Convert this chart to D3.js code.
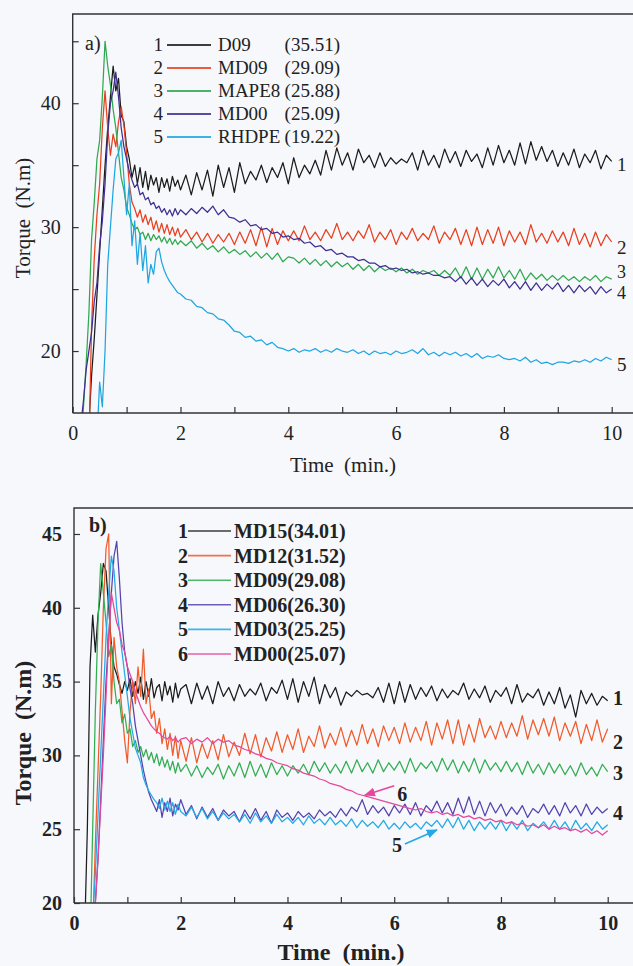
<!DOCTYPE html>
<html><head><meta charset="utf-8">
<script src="https://cdn.jsdelivr.net/npm/d3@7"></script>
<style>
html,body{margin:0;padding:0;background:#f6f8fb;}
svg{display:block;}
text{font-family:"Liberation Serif","Times New Roman",serif;fill:#222;}
</style></head>
<body>
<svg id="chart" width="633" height="966"></svg>
<script>
// ---------- DATA ----------
const timeGrid = [
0.1,0.15,0.2,0.25,0.3,0.35,0.4,0.45,0.5,0.55,
0.6,0.65,0.7,0.75,0.8,0.85,0.9,0.95,1.0,1.05,
1.1,1.15,1.2,1.25,1.3,1.35,1.4,1.45,1.5,1.55,
1.6,1.65,1.7,1.75,1.8,1.85,1.9,1.95,2.0,
2.1,2.2,2.3,2.4,2.5,2.6,2.7,2.8,2.9,3.0,
3.1,3.2,3.3,3.4,3.5,3.6,3.7,3.8,3.9,4.0,
4.1,4.2,4.3,4.4,4.5,4.6,4.7,4.8,4.9,5.0,
5.1,5.2,5.3,5.4,5.5,5.6,5.7,5.8,5.9,6.0,
6.1,6.2,6.3,6.4,6.5,6.6,6.7,6.8,6.9,7.0,
7.1,7.2,7.3,7.4,7.5,7.6,7.7,7.8,7.9,8.0,
8.1,8.2,8.3,8.4,8.5,8.6,8.7,8.8,8.9,9.0,
9.1,9.2,9.3,9.4,9.5,9.6,9.7,9.8,9.9,10.0];

// Panel a)
const namesA = ["D09","MD09","MAPE8","MD00","RHDPE"];
const finalA = ["(35.51)","(29.09)","(25.88)","(25.09)","(19.22)"];
const a_D09 = [
10,10,10,11,14,18,21,24.5,28,31.5,
35,38,40.5,43,41,42,39,38.5,36.5,35.5,
34,35,33.5,34.8,33.2,34.5,33,34.2,33.4,34,
32.8,34,33.2,33.9,32.9,34.1,33.3,33.8,33,
34.2,32.6,34.4,33,34.6,32.5,35,33.2,34.8,32.8,
35.2,33.5,34.5,33.8,35,33.6,34.8,34,35.2,33.5,
35.6,34,35,34.3,35.4,34.2,36.2,34.6,36.4,35,
36,34.6,36.3,35.2,35.8,34.8,36,34.9,35.6,35.1,
35.5,35.2,36,34.6,36.2,35,35.8,34.8,36.3,35.2,
36.1,34.9,36.2,35.3,35.9,34.8,36.4,35,36.6,35.2,
36.2,35,36.8,35.1,36.9,35.4,36.5,35.3,36.2,34.9,
36,35,36.3,34.8,35.9,35.2,36.2,34.7,35.8,35.3];
const a_MD09 = [
10,10,10,10,12,22,27.5,31,33.5,38,
41,38,35.8,37.5,36.5,38.5,39.7,38.2,36,33.5,
32,31.5,30.8,31.4,30.4,31,30.2,30.8,29.8,30.5,
29.6,30.3,29.5,30.2,29.4,30,29.3,29.9,29.2,
29.8,29,29.6,28.8,29.5,28.7,29.4,28.8,29.5,28.6,
29.6,28.7,29.8,28.5,30,28.4,29.9,28.6,29.7,28.9,
29.7,28.9,30.1,29,29.6,28.9,29.8,29.1,30.3,29,
29.6,28.9,29.7,29.1,30.2,28.8,29.6,29,29.8,28.6,
29.6,29,29.9,28.9,29.5,29,30.1,28.7,29.6,29,
29.9,28.6,29.8,28.5,30,28.6,29.8,28.7,30,28.5,
29.7,28.8,29.6,28.6,30.2,28.8,29.5,28.7,29.7,28.8,
29.6,28.5,29.9,28.6,29.5,28.4,29.6,28.5,29.4,28.8];
const a_MAPE8 = [
10,12,15.5,19,23,29,32,35.5,37,40.5,
45,43,41.5,39.5,38,36,34,33,31.6,31,
30.3,29.8,30,29.4,29.6,29,29.5,28.9,29.4,29,
29.3,28.8,29.2,28.7,29.1,28.6,29,28.6,28.9,
28.5,28.9,28.3,28.7,28.2,28.5,28,28.4,27.9,28.2,
27.8,28.1,27.6,28,27.5,27.9,27.4,27.9,27.2,27.6,
27.5,27.1,27.5,27,27.4,26.9,27.3,26.8,27.2,26.8,
27.1,26.6,27,26.5,26.9,26.4,26.8,26.5,26.7,26.4,
26.7,26.3,26.6,26.2,26.5,26.3,26.5,26.1,26.5,26.1,
26.7,25.9,26.8,25.8,26.7,25.8,26.6,25.9,26.8,25.9,
26.5,25.8,26.6,25.7,26.3,25.8,26.2,25.7,26.1,25.7,
26.1,25.7,26,25.6,26,25.7,26.1,25.6,26,25.8];
const a_MD00 = [
10,14,16,18.5,20,21.5,24,25.5,28.5,30.5,
33.5,37.5,40,41,42.5,40.5,38,36.5,35.5,34.5,
33.8,33.2,33.5,32.6,32.8,32.2,32.4,31.8,32,31.5,
31.7,31.2,31.5,31,31.4,30.9,31.5,31,31.4,
31,31.5,31.1,31.6,31.2,31.7,31,31.4,30.8,30.7,
30.4,30.6,30.1,30.2,29.8,29.9,29.5,29.6,29.2,29.3,
29,29.1,28.7,28.8,28.4,28.5,28.1,28.2,27.8,27.9,
27.6,27.6,27.3,27.4,27.1,27.1,26.8,26.9,26.6,26.7,
26.5,26.6,26.3,26.4,26.2,26.3,26.1,26.1,25.9,26,
25.6,26,25.4,25.9,25.3,25.8,25.2,25.7,25.3,25.8,
25.1,25.6,25,25.6,24.9,25.5,24.9,25.4,25,25.5,
24.8,25.3,24.7,25.3,24.8,25.2,24.6,25.2,24.7,25];
const a_RHDPE = [
10,10,10,10,10,10,10,13,17.5,15.5,
20,27,30,33,35.5,36,37,34,31,33.5,
28.5,30.5,27,29.5,26.5,28.5,25.5,27,26.2,28,
28.3,27.2,26.5,26,25.6,25.3,25,24.7,24.6,
24.2,24.1,23.6,23.5,23.1,23,22.6,22.5,22.1,21.6,
21.5,21.1,21.2,20.8,20.9,20.5,20.7,20.3,20.2,20,
20.2,19.9,20.1,20,20.2,19.9,20.1,19.9,20.2,20,
19.9,20.1,19.8,20,19.7,20,19.8,19.9,19.7,20,
19.8,19.9,20.1,19.8,20.2,19.7,19.9,19.6,19.9,19.7,
19.9,19.6,19.8,19.5,19.8,19.4,19.6,19.5,19.7,19.4,
19.3,19.4,19.2,19.5,19.1,19.3,19.0,19.1,18.9,19.1,
19.1,19.0,19.2,19.1,19.3,19.1,19.4,19.2,19.5,19.3];

// Panel b)
const namesB = ["MD15(34.01)","MD12(31.52)","MD09(29.08)","MD06(26.30)","MD03(25.25)","MD00(25.07)"];
const b_MD15 = [
15,15,18,25,36,39.5,37,39.5,41,43,
42.5,40,37.5,36,35.5,34.8,34.2,35,34.4,35.2,
34,35,34.2,35.3,33.8,35,34,35.2,33.9,34.6,
34.8,33.7,35,34.1,34.7,33.6,34.9,33.9,34.5,
34.8,33.5,34.9,33.8,34.7,33.5,35,34,34.6,33.7,
34.8,34,34.5,34.1,34.9,33.7,34.6,34.2,35.1,33.8,
35.2,33.6,35,34,35.3,33.5,34.8,33.9,34.6,33.4,
34.3,34,34.4,34.1,34.2,33.9,34.6,33.6,34.9,33.5,
35,33.6,34.8,33.8,34.6,34,34.7,33.7,34.5,33.9,
34.4,34.1,34.9,33.8,34.5,33.9,34.7,33.6,34.4,34,
34.6,33.5,34.8,33.6,34.2,33.9,34.5,33.4,34.3,33.5,
34.6,33.2,34.1,32.6,34.4,33.5,34.2,33.4,34,33.7];
const b_MD12 = [
15,15,15,15,15,18,24,29,34,40,
44,45,33.5,38,36,35,33,31,29.5,33,
35,33.5,36,34,37.2,33.5,34.5,32.5,33,31.5,
32.5,30.8,31.8,30.4,31.5,30,31.3,29.8,31,
29.6,31.2,29.5,30.8,29.8,31,29.7,31.4,29.9,30.9,
30,31.5,30.1,31.4,29.9,31.2,30.3,31.6,30.2,31.4,
30.4,31.8,30.2,31.3,30.6,32,30.5,31.5,30.7,31.9,
30.6,31.7,30.7,32.1,30.8,31.8,30.6,32,31,31.9,
30.8,32.2,30.9,31.9,31,32.3,30.7,32.2,31.1,32.4,
30.8,32.4,30.7,32.1,30.9,32.5,31.2,32,31.1,32.3,
31.2,32.2,31.3,32.7,31.1,32.4,31.4,32.5,31.3,32.6,
31,32.2,31.3,32.3,30.8,32.1,31,32.4,30.9,31.8];
const b_MD09 = [
15,15,15,15,17,25,33,39,43,41,
39,36.7,37.5,35,33.5,33.8,32.2,32.8,31.5,31.8,
30.6,31,30.2,30.6,29.9,30.4,29.7,30.2,29.5,30.1,
29.3,29.9,29.2,29.7,29,29.6,28.8,29.5,28.9,
29.4,28.6,29.3,28.5,29.2,28.7,29.4,28.4,29.3,28.6,
29.5,28.5,29.6,28.6,29.4,28.5,29.5,28.7,29.3,28.6,
29.3,28.8,29.4,28.7,29.6,28.9,29.5,28.8,29.4,28.8,
29.6,28.8,29.7,28.9,29.5,28.8,29.7,28.9,29.5,29,
29.6,28.8,29.8,28.9,29.5,29.1,29.6,28.9,29.8,29,
29.7,28.8,29.6,28.9,29.8,28.8,29.7,29,29.5,28.9,
29.6,28.9,29.5,28.7,29.6,28.8,29.4,28.7,29.5,28.8,
29.4,28.7,29.3,28.6,29.5,28.7,29.2,28.6,29.4,28.9];
const b_MD06 = [
15,15,15,15,15,18,20,23,27,31,
35,38,41,43.5,44.5,42,39,37,36,34.5,
33.5,32,31,30,29,28.2,27.5,27,26.6,26.2,
27,25.8,26.8,26.2,27.1,25.9,26.7,26.3,27,
26,26.6,25.7,26.5,25.8,26.4,25.6,26.3,25.9,26.2,
25.5,26.3,25.7,26.4,25.6,26.2,25.4,26.3,25.8,26.1,
25.6,26.2,25.8,26.1,25.7,26.3,25.9,26.2,25.8,26.4,
25.9,26.5,26.2,27,26,26.6,26.1,26.5,25.9,26.6,
26.1,26.7,26,26.8,25.9,26.6,26.2,26.9,26.1,26.8,
26,27.1,26.1,27.2,26,26.9,25.9,26.8,26.1,26.7,
25.9,26.5,26,26.6,25.8,26.4,26.1,26.7,26,26.6,
25.9,26.8,26.1,26.6,25.9,26.7,26,26.5,26.1,26.4];
const b_MD03 = [
15,15,15,15,15,19,22,26,30,34,
38,41,43.5,42.5,40,38.5,37,35.5,34,32.5,
31.5,30.5,30,29.5,28.5,28,27.6,27.3,27,26.8,
26.4,27.1,26.3,26.9,26.2,26.8,26,26.7,26.2,
25.9,26.5,25.8,26.4,25.7,26.2,25.6,26.1,25.7,26,
25.5,26,25.4,26.1,25.5,25.9,25.4,26,25.5,25.8,
25.4,25.8,25.3,25.9,25.4,25.7,25.3,25.8,25.3,25.6,
25.2,25.7,25.1,25.6,25.2,25.5,25.1,25.6,25,25.4,
25,25.5,25.1,25.4,25,25.5,25.2,25.6,25.1,25.7,
25.1,25.8,25,25.6,24.9,25.5,25,25.5,25,25.6,
24.9,25.5,25,25.6,24.9,25.4,25.1,25.5,25,25.6,
25,25.5,24.9,25.6,25,25.4,24.9,25.5,25,25.3];
const b_MD00 = [
15,15,15,15,15,17,20,23,26.5,30,
34,38,41,40,39,38.5,37.5,37,36,35.5,
35,34.3,33.8,33.3,32.9,32.6,32.3,32,31.8,31.6,
31.5,31.3,31.2,31.1,31.3,31,31.2,30.9,31.1,
31.2,30.8,31.1,30.9,31.2,30.8,31.1,30.9,31,30.7,
30.6,30.4,30.3,30.1,30,29.8,29.7,29.5,29.4,29.3,
29.1,29,28.8,28.7,28.6,28.4,28.3,28.1,28.0,27.9,
27.7,27.6,27.4,27.3,27.2,27.1,27,26.9,26.8,26.7,
26.6,26.5,26.4,26.3,26.4,26.2,26.1,26.2,26,26.1,
25.9,26,25.8,25.9,25.7,25.8,25.6,25.7,25.5,25.6,
25.4,25.5,25.3,25.4,25.2,25.3,25.1,25.3,25,25.2,
25,25.1,24.9,25,24.8,25,24.7,24.9,24.6,24.9];

const xTicks = [0,2,4,6,8,10];
const yTicksA = [20,30,40];
const yTicksB = [20,25,30,35,40,45];

// ---------- DRAWING ----------
const svg = d3.select("#chart");
const serif = '"Liberation Serif","Times New Roman",serif';
const colA = ["#1c1c1c","#e8401f","#2fa84f","#3f2f92","#1fa6e2"];
const colB = ["#1c1c1c","#f15a2b","#33ad52","#5842b0","#22a9e6","#e6479b"];

function panel(cfg){
  const g = svg.append("g");
  const x = d3.scaleLinear().domain([0,10]).range(cfg.xr);
  const y = d3.scaleLinear().domain(cfg.yd).range(cfg.yr);
  const clipId = "clip"+cfg.id;
  svg.append("clipPath").attr("id",clipId).append("rect")
    .attr("x",cfg.xr[0]).attr("y",cfg.yr[1]).attr("width",640-cfg.xr[0]).attr("height",cfg.yr[0]-cfg.yr[1]);
  const line = d3.line().x((d,i)=>x(timeGrid[i])).y(d=>y(d));
  const lg = g.append("g").attr("clip-path",`url(#${clipId})`);
  cfg.series.forEach((s,k)=>{
    lg.append("path").attr("d",line(s)).attr("fill","none")
      .attr("stroke",cfg.colors[k]).attr("stroke-width",1.25).attr("stroke-linejoin","round");
  });
  g.append("path").attr("d",`M${cfg.xr[0]},${cfg.yr[0]}V${cfg.yr[1]}H640`)
    .attr("fill","none").attr("stroke","#333").attr("stroke-width",1.4);
  const xa = d3.axisBottom(x).tickValues(d3.range(0,11,1)).tickSize(-6)
     .tickFormat(d=> xTicks.includes(d)? d3.format("d")(d):"").tickPadding(13);
  const xg = g.append("g").attr("transform",`translate(0,${cfg.yr[0]})`).call(xa);
  xg.select(".domain").attr("d",`M${cfg.xr[0]},0H640`).attr("stroke","#333").attr("stroke-width",1.4);
  xg.selectAll(".tick line").attr("stroke","#333").attr("stroke-width",1.2);
  xg.selectAll(".tick text").attr("font-family",serif).attr("font-size",cfg.fs)
    .attr("font-weight",cfg.fw).attr("fill","#222");
  const ya = d3.axisLeft(y).tickValues(cfg.yMinor).tickSize(-6)
     .tickFormat(d=> cfg.yLab.includes(d)? d3.format("d")(d):"").tickPadding(cfg.ypad);
  const yg = g.append("g").attr("transform",`translate(${cfg.xr[0]},0)`).call(ya);
  yg.select(".domain").remove();
  yg.selectAll(".tick line").attr("stroke","#333").attr("stroke-width",1.2);
  yg.selectAll(".tick text").attr("font-family",serif).attr("font-size",cfg.fs)
    .attr("font-weight",cfg.fw).attr("fill","#222");
  return {g,x,y};
}

const A = panel({id:"A", xr:[72.7,611.7], yd:[15,47.2], yr:[413,14],
  series:[a_D09,a_MD09,a_MAPE8,a_MD00,a_RHDPE], colors:colA,
  fs:20, fw:"normal", yMinor:[20,25,30,35,40,45], yLab:yTicksA, ypad:12});
const B = panel({id:"B", xr:[74,607.7], yd:[20,46.76], yr:[903,508],
  series:[b_MD15,b_MD12,b_MD09,b_MD06,b_MD03,b_MD00], colors:colB,
  fs:20, fw:"bold", yMinor:yTicksB, yLab:yTicksB, ypad:12});

svg.append("text").attr("x",85).attr("y",50).attr("font-size",20).text("a)");
svg.append("text").attr("x",89).attr("y",532).attr("font-size",20).attr("font-weight","bold").text("b)");

svg.append("text").attr("x",343).attr("y",472).attr("text-anchor","middle").attr("font-size",21)
  .style("white-space","pre").text("Time  (min.)");
svg.append("text").attr("transform","translate(30,218) rotate(-90)").attr("text-anchor","middle")
  .attr("font-size",21).style("white-space","pre").text("Torque  (N.m)");
svg.append("text").attr("x",341).attr("y",960).attr("text-anchor","middle").attr("font-size",24)
  .attr("font-weight","bold").style("white-space","pre").text("Time  (min.)");
svg.append("text").attr("transform","translate(31,733) rotate(-90)").attr("text-anchor","middle")
  .attr("font-size",24).attr("font-weight","bold").style("white-space","pre").text("Torque  (N.m)");

namesA.forEach((n,i)=>{
  const yy = 45 + i*23;
  svg.append("text").attr("x",163).attr("y",yy+6).attr("text-anchor","end").attr("font-size",19).text(i+1);
  svg.append("line").attr("x1",167).attr("x2",211).attr("y1",yy).attr("y2",yy)
    .attr("stroke",colA[i]).attr("stroke-width",2).attr("opacity",0.85);
  svg.append("text").attr("x",218).attr("y",yy+6).attr("font-size",19).text(n);
  svg.append("text").attr("x",340).attr("y",yy+6).attr("text-anchor","end").attr("font-size",19).text(finalA[i]);
});
namesB.forEach((n,i)=>{
  const yy = 531 + i*24.6;
  svg.append("text").attr("x",188).attr("y",yy+7).attr("text-anchor","end").attr("font-size",20)
    .attr("font-weight","bold").text(i+1);
  svg.append("line").attr("x1",188).attr("x2",231).attr("y1",yy).attr("y2",yy)
    .attr("stroke",colB[i]).attr("stroke-width",1.6).attr("opacity",0.85);
  svg.append("text").attr("x",234).attr("y",yy+7).attr("font-size",20).attr("font-weight","bold").text(n);
});

const endA = [[617,171,"1",19],[617,254,"2",19],[617,278,"3",18],[617,299,"4",18],[617,371,"5",19]];
endA.forEach(d=> svg.append("text").attr("x",d[0]).attr("y",d[1]).attr("font-size",d[3]).text(d[2]));
const endB = [[613,705,"1"],[613,749,"2"],[613,780,"3"],[613,820,"4"]];
endB.forEach(d=> svg.append("text").attr("x",d[0]).attr("y",d[1]).attr("font-size",20).attr("font-weight","bold").text(d[2]));

const defs = svg.append("defs");
[["pinkHead","#e6479b"],["blueHead","#22a9e6"]].forEach(([id,c])=>{
  defs.append("marker").attr("id",id).attr("viewBox","0 0 10 10").attr("refX",9).attr("refY",5)
    .attr("markerWidth",7).attr("markerHeight",7).attr("orient","auto")
    .append("path").attr("d","M0,1L10,5L0,9Z").attr("fill",c);
});
svg.append("line").attr("x1",B.x(6.0)).attr("y1",B.y(27.95)).attr("x2",B.x(5.45)).attr("y2",B.y(27.3))
  .attr("stroke","#e6479b").attr("stroke-width",1.6).attr("marker-end","url(#pinkHead)");
svg.append("text").attr("x",B.x(6.15)).attr("y",B.y(27.4)+7).attr("text-anchor","middle")
  .attr("font-size",20).attr("font-weight","bold").text("6");
svg.append("line").attr("x1",B.x(6.2)).attr("y1",B.y(24.0)).attr("x2",B.x(6.8)).attr("y2",B.y(24.95))
  .attr("stroke","#22a9e6").attr("stroke-width",1.6).attr("marker-end","url(#blueHead)");
svg.append("text").attr("x",B.x(6.05)).attr("y",B.y(23.9)+7).attr("text-anchor","middle")
  .attr("font-size",20).attr("font-weight","bold").text("5");
</script>
</body></html>
